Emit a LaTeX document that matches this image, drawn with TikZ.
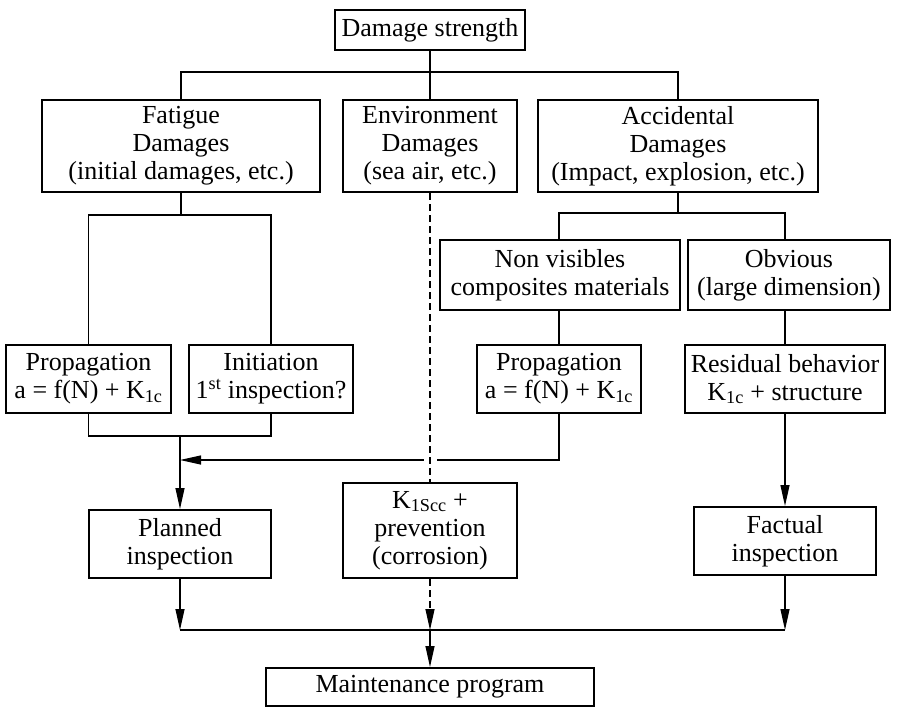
\documentclass[tikz,border=0pt]{standalone}
\usepackage{fontspec}
\setmainfont{Liberation Serif}
\usetikzlibrary{arrows.meta}
\begin{document}
\begin{tikzpicture}[x=1pt,y=-1pt,
  box/.style={draw, line width=2pt, align=center, inner sep=0pt,
    font=\fontsize{26}{28}\selectfont},
  conn/.style={line width=1.2pt},
  arr/.style={conn, -{Triangle[length=21pt,width=9pt]}},
  dashconn/.style={conn, dash pattern=on 7pt off 4pt}]
\useasboundingbox (0,0) rectangle (897,717);
\node[box, minimum width=190pt, minimum height=40pt] (ds) at (430,30) {Damage strength};
\node[box, minimum width=278pt, minimum height=92pt] (fat) at (181,146) {Fatigue\\Damages\\(initial damages, etc.)};
\node[box, minimum width=174pt, minimum height=92pt] (env) at (430,146) {Environment\\Damages\\(sea air, etc.)};
\node[box, minimum width=280pt, minimum height=92pt] (acc) at (678,146) {Accidental\\Damages\\(Impact, explosion, etc.)};
\node[box, minimum width=240pt, minimum height=70pt] (nv) at (560,275) {Non visibles\\composites materials};
\node[box, minimum width=202pt, minimum height=70pt] (obv) at (789,275) {Obvious\\(large dimension)};
\node[box, minimum width=165pt, minimum height=68pt] (pl) at (88.5,379) {Propagation\\a = f(N) + K\textsubscript{1c}};
\node[box, minimum width=164pt, minimum height=68pt] (ini) at (271,379) {Initiation\\1\textsuperscript{st} inspection?};
\node[box, minimum width=164pt, minimum height=68pt] (pr) at (559,379) {Propagation\\a = f(N) + K\textsubscript{1c}};
\node[box, minimum width=200pt, minimum height=68pt] (res) at (785,379) {Residual behavior\\K\textsubscript{1c} + structure};
\node[box, minimum width=182pt, minimum height=68pt] (plan) at (180,544) {Planned\\inspection};
\node[box, minimum width=174pt, minimum height=95pt] (k) at (430,530.5) {K\textsubscript{1Scc} +\\prevention\\(corrosion)};
\node[box, minimum width=182pt, minimum height=68pt] (fac) at (785,541) {Factual\\inspection};
\node[box, minimum width=328pt, minimum height=38pt] (mp) at (430,687) {Maintenance program};
\coordinate (j1) at (430,72);
\coordinate (j2) at (181,215);
\coordinate (j3) at (678,213);
\coordinate (j4) at (180,436);
\coordinate (j5) at (180,460);
\coordinate (j6) at (430,630);
\coordinate (gapl) at (424,460);
\coordinate (gapr) at (437,460);
% top tree
\draw[conn] (ds) -- (j1);
\draw[conn] (fat.north) |- (j1) -| (acc.north);
\draw[conn] (j1) -- (env.north);
% fatigue branch
\draw[conn] (fat.south) -- (j2);
\draw[conn] (pl.north) |- (j2) -| (ini.north);
% accidental branch
\draw[conn] (acc.south) -- (j3);
\draw[conn] (pr.north |- nv.north) |- (j3) -| (res.north |- obv.north);
\draw[conn] (pr.north |- nv.south) -- (pr.north);
\draw[conn] (res.north |- obv.south) -- (res.north);
% merges
\draw[conn] (pl.south) |- (j4) -| (ini.south);
\draw[arr] (j4) -- (plan.north);
\draw[arr] (pr.south) |- (j5);
\draw[white, line width=4pt] (gapl) -- (gapr);
\draw[dashconn] (env.south) -- (k.north);
\draw[arr] (res.south) -- (fac.north);
% bottom
\draw[conn] (plan.south |- j6) -- (fac.south |- j6);
\draw[arr] (plan.south) -- (plan.south |- j6);
\draw[arr] (fac.south) -- (fac.south |- j6);
\draw[dashconn, -{Triangle[length=21pt,width=9pt]}] (k.south) -- (j6);
\draw[arr] (j6) -- (mp.north);
\end{tikzpicture}
\end{document}
